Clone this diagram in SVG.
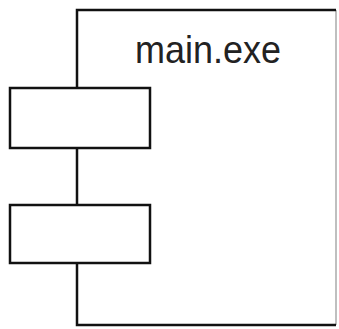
<svg xmlns="http://www.w3.org/2000/svg" width="339" height="329" viewBox="0 0 339 329">
<style>
.box{fill:#fff;stroke:#111;stroke-width:2.5}
.lbl{font-family:"Liberation Sans",Arial,sans-serif;font-size:39px;fill:#222}
</style>
<rect width="339" height="329" fill="#fff"/>
<g id="component">
<path d="M336,10 L336,325" stroke="#aaa" stroke-width="1.5" fill="none"/>
<path d="M336,10 L77,10 L77,325 L336,325" class="box" style="fill:none"/>
<text class="lbl" x="135" y="63" textLength="146" lengthAdjust="spacingAndGlyphs">main.exe</text>
</g>
<g id="port1"><rect class="box" x="10" y="88" width="140" height="60"/></g>
<g id="port2"><rect class="box" x="10" y="205" width="140" height="58"/></g>
</svg>
